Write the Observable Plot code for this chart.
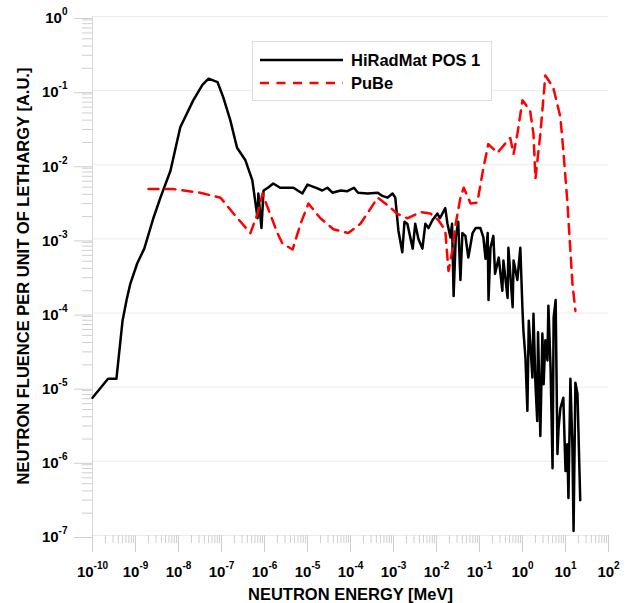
<!DOCTYPE html>
<html>
<head>
<meta charset="utf-8">
<script src="https://cdn.jsdelivr.net/npm/d3@7"></script>
<script src="https://cdn.jsdelivr.net/npm/@observablehq/plot@0.6"></script>
<style>
  html, body { margin: 0; padding: 0; background: #fff; }
  #wrap { position: relative; width: 628px; height: 603px; font-family: "Liberation Sans", Arial, sans-serif; }
  #legend { position: absolute; left: 252px; top: 41px; width: 238px; height: 58px; border: 1px solid #dcdcdc; background: #fff; box-sizing: content-box; }
  .row { position: absolute; left: 0; height: 20px; display: flex; align-items: center; }
  .row span { font-weight: bold; font-size: 16.5px; color: #000; margin-left: 8px; }
  .row svg { margin-left: 7px; }
</style>
</head>
<body>
<div id="wrap"></div>
<script>
// ---- data ----
const seriesNames = ["HiRadMat POS 1", "PuBe"];

const hiradE = [1e-10, 2.3e-10, 3.6e-10, 5.0e-10, 6.2e-10, 7.6e-10, 1.1e-9, 1.6e-9, 2.6e-9, 3.8e-9, 6.5e-9,
  1.1e-8, 2.2e-8, 3.6e-8, 5.0e-8, 8.1e-8, 1.1e-7, 1.6e-7, 2.3e-7, 3.6e-7, 5.2e-7, 6.2e-7, 6.9e-7, 7.2e-7,
  8.5e-7, 9.5e-7, 1.2e-6, 1.6e-6, 2.3e-6, 4.7e-6, 7.6e-6, 1.0e-5, 1.7e-5, 2.2e-5, 2.9e-5, 3.8e-5, 5.9e-5,
  8.5e-5, 1.2e-4, 1.5e-4, 2.5e-4, 4.3e-4, 5.5e-4, 7.2e-4, 9.5e-4, 1.1e-3, 1.3e-3, 1.6e-3, 1.8e-3, 2.1e-3,
  2.8e-3, 3.2e-3, 3.8e-3, 4.7e-3, 5.5e-3, 6.5e-3, 8.1e-3, 1.05e-2, 1.2e-2, 1.6e-2, 1.8e-2, 2.1e-2, 2.3e-2,
  2.5e-2, 2.8e-2, 3.2e-2, 3.6e-2, 4.0e-2, 4.7e-2, 5.5e-2, 6.9e-2, 8.1e-2, 0.105, 0.123, 0.138, 0.155, 0.162,
  0.18, 0.21, 0.23, 0.28, 0.34, 0.36, 0.45, 0.47, 0.59, 0.62, 0.76, 0.89, 1.0, 1.05, 1.17, 1.3, 1.4, 1.7,
  1.8, 2.0, 2.2, 2.3, 2.6, 2.9, 3.1, 3.4, 3.8, 4.0, 4.5, 5.0, 5.3, 5.9, 6.5, 6.9, 7.6, 8.9, 10, 11, 11.7,
  13, 14.5, 15.4, 17, 19, 22];
const hiradF = [7.2e-6, 1.3e-5, 1.3e-5, 7.9e-5, 1.5e-4, 2.5e-4, 4.7e-4, 7.4e-4, 1.9e-3, 3.6e-3, 8.3e-3,
  3.2e-2, 7.4e-2, 0.12, 0.145, 0.13, 8.1e-2, 4.0e-2, 1.7e-2, 1.15e-2, 6.2e-3, 3.0e-3, 1.9e-3, 4.1e-3,
  1.4e-3, 4.5e-3, 4.9e-3, 5.6e-3, 4.9e-3, 4.9e-3, 4.1e-3, 5.4e-3, 4.8e-3, 4.5e-3, 4.9e-3, 4.2e-3, 4.5e-3,
  4.4e-3, 4.9e-3, 4.2e-3, 4.1e-3, 4.2e-3, 3.8e-3, 3.6e-3, 4.1e-3, 3.6e-3, 1.3e-3, 6.6e-4, 1.7e-3, 1.6e-3,
  7.4e-4, 1.6e-3, 1.0e-3, 7.4e-4, 1.6e-3, 1.4e-3, 1.8e-3, 2.2e-3, 1.9e-3, 2.6e-3, 1.6e-3, 1.05e-3, 1.6e-3,
  1.7e-4, 1.05e-3, 1.7e-3, 2.8e-4, 1.2e-3, 1.1e-3, 5.6e-4, 1.2e-3, 1.4e-3, 1.4e-3, 1.05e-3, 5.4e-4, 1.2e-3, 1.5e-4,
  7.6e-4, 1.1e-3, 3.4e-4, 5.6e-4, 2.0e-4, 5.1e-4, 1.6e-4, 7.6e-4, 1.2e-4, 5.1e-4, 2.8e-4, 7.6e-4, 1.1e-4, 5.8e-5, 2.5e-5, 4.8e-6, 7.9e-5, 1.35e-5,
  9.8e-5, 1.1e-5, 3.5e-6, 5.5e-5, 2.2e-6, 5.3e-5, 1.1e-5, 4.3e-5, 2.3e-5, 1.26e-4, 1.8e-5, 8.1e-7, 8.7e-5, 1.5e-4, 1.26e-6, 2.8e-6, 5.2e-6, 7.2e-6, 7.4e-7, 1.7e-6, 3.2e-7,
  1.3e-5, 1.5e-6, 1.15e-7, 1.15e-5, 8.1e-6, 3.0e-7];

const pubeE = [2.0e-9, 7.6e-9, 3.2e-8, 9.5e-8, 1.9e-7, 4.7e-7, 6.9e-7, 9.0e-7, 1.2e-6, 2.0e-6, 2.6e-6, 4.5e-6,
  6.9e-6, 1.05e-5, 2.0e-5, 4.0e-5, 8.9e-5, 1.7e-4, 4.3e-4, 7.6e-4, 1.2e-3, 2.1e-3, 4.3e-3, 7.2e-3, 1.1e-2,
  1.6e-2, 1.9e-2, 2.3e-2, 2.8e-2, 3.6e-2, 4.3e-2, 6.2e-2, 8.9e-2, 0.12, 0.16, 0.26, 0.45, 0.52, 0.62, 0.76,
  1.0, 1.5, 1.8, 2.0, 2.6, 3.4, 5.2, 7.6, 8.9, 11, 14.5, 17];
const pubeF = [4.7e-3, 4.7e-3, 4.2e-3, 3.6e-3, 2.2e-3, 1.2e-3, 2.2e-3, 4.1e-3, 2.6e-3, 1.2e-3, 8.7e-4, 7.2e-4,
  1.6e-3, 3.0e-3, 1.9e-3, 1.35e-3, 1.2e-3, 1.6e-3, 3.6e-3, 2.8e-3, 2.2e-3, 1.9e-3, 2.3e-3, 2.2e-3, 1.8e-3,
  1.3e-3, 3.7e-4, 6.6e-4, 1.6e-3, 3.6e-3, 4.9e-3, 3.0e-3, 3.1e-3, 8.3e-3, 1.9e-2, 1.45e-2, 2.1e-2, 2.3e-2, 1.4e-2, 2.6e-2,
  7.4e-2, 5.4e-2, 2.6e-2, 6.5e-3, 2.6e-2, 0.16, 0.11, 4.4e-2, 1.55e-2, 3.3e-3, 2.5e-4, 1.07e-4];

const xTicks = [1e-10, 1e-9, 1e-8, 1e-7, 1e-6, 1e-5, 1e-4, 1e-3, 1e-2, 1e-1, 1e0, 1e1, 1e2];
const yTicks = [1e-7, 1e-6, 1e-5, 1e-4, 1e-3, 1e-2, 1e-1, 1e0];
const xTitle = "NEUTRON ENERGY [MeV]";
const yTitle = "NEUTRON FLUENCE PER UNIT OF LETHARGY [A.U.]";

// ---- build tables ----
const hirad = hiradE.map((e, i) => ({E: e, F: hiradF[i]}));
const pube = pubeE.map((e, i) => ({E: e, F: pubeF[i]}));
const minorOf = (ticks) => ticks.slice(0, -1).flatMap(t => [2,3,4,5,6,7,8,9].map(m => m * t));
const xMinor = minorOf(xTicks);
const yMinor = minorOf(yTicks);
const fmt = d => "10^" + Math.round(Math.log10(d));
const tickGrey = "#cfcfcf";
const font = "'Liberation Sans', Arial, sans-serif";

const chart = Plot.plot({
  width: 628,
  height: 603,
  marginLeft: 92,
  marginRight: 20,
  marginTop: 16,
  marginBottom: 68,
  x: {type: "log", domain: [xTicks[0], xTicks[xTicks.length - 1]], label: null},
  y: {type: "log", domain: [yTicks[0], yTicks[yTicks.length - 1]], label: null},
  style: {fontFamily: font, fontSize: "15px", fontWeight: "bold", color: "#000", background: "transparent"},
  marks: [
    Plot.gridY(yTicks, {stroke: "#ebebeb", strokeOpacity: 1, strokeWidth: 1}),
    Plot.ruleX([xTicks[0]], {stroke: "#d8d8d8", strokeWidth: 1}),
    Plot.axisY(yMinor, {tickSize: 10, tickFormat: () => "", label: null, stroke: tickGrey}),
    Plot.axisY(yTicks, {tickSize: 18, tickPadding: 7, dy: 2, tickFormat: fmt, label: null, stroke: tickGrey, fill: "#000"}),
    Plot.axisX(xMinor, {tickSize: 8, tickFormat: () => "", label: null, stroke: tickGrey}),
    Plot.axisX(xTicks, {tickSize: 17, tickPadding: 14, tickFormat: fmt, label: null, stroke: tickGrey, fill: "#000"}),
    Plot.line(hirad, {x: "E", y: "F", stroke: "#000", strokeWidth: 2.5, strokeLinejoin: "round"}),
    Plot.line(pube, {x: "E", y: "F", stroke: "#ff0000", strokeWidth: 2.5, strokeDasharray: "10,7"}),
    Plot.text([xTitle], {text: d => d, frameAnchor: "bottom", lineAnchor: "middle", textAnchor: "middle", dy: 59, fontSize: 16.5, fontWeight: "bold", fill: "#000"}),
    Plot.text([yTitle], {text: d => d, frameAnchor: "left", lineAnchor: "middle", textAnchor: "middle", rotate: -90, dx: -69, fontSize: 16.5, fontWeight: "bold", fill: "#000"})
  ]
});

// superscript exponents in tick labels
const svgNS = "http://www.w3.org/2000/svg";
chart.querySelectorAll('g[aria-label$="tick label"] text').forEach(t => {
  const s = t.textContent;
  if (!s || s.indexOf("^") < 0) return;
  const [b, e] = s.split("^");
  t.textContent = "";
  const t1 = document.createElementNS(svgNS, "tspan");
  t1.textContent = b;
  const t2 = document.createElementNS(svgNS, "tspan");
  t2.textContent = e;
  t2.setAttribute("dy", "-8");
  t2.setAttribute("font-size", "10");
  t.appendChild(t1);
  t.appendChild(t2);
});

const wrap = document.getElementById("wrap");
wrap.appendChild(chart);

// legend (HTML overlay)
const legend = document.createElement("div");
legend.id = "legend";
const styles = [{stroke: "#000", dash: null}, {stroke: "#ff0000", dash: "9,7.5"}];
seriesNames.forEach((name, i) => {
  const row = document.createElement("div");
  row.className = "row";
  row.style.top = (8 + i * 23) + "px";
  const sw = d3.create("svg").attr("width", 83).attr("height", 6);
  sw.append("line").attr("x1", 0).attr("x2", 83).attr("y1", 3).attr("y2", 3)
    .attr("stroke", styles[i].stroke).attr("stroke-width", 2.5)
    .attr("stroke-dasharray", styles[i].dash);
  row.appendChild(sw.node());
  const lab = document.createElement("span");
  lab.textContent = name;
  row.appendChild(lab);
  legend.appendChild(row);
});
wrap.appendChild(legend);
</script>
</body>
</html>
